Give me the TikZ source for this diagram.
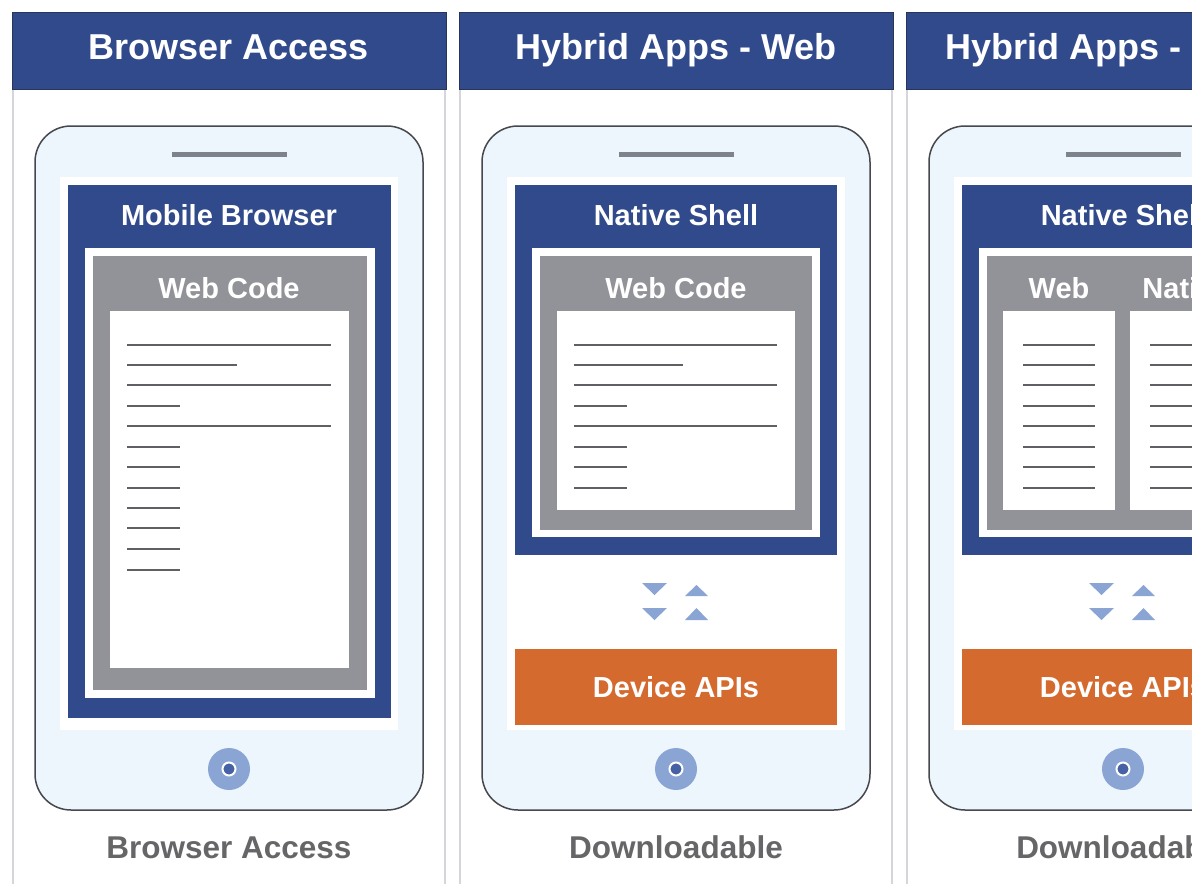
\documentclass[tikz,border=0pt]{standalone}
\usepackage{fontspec}
\setmainfont{Liberation Sans}
\definecolor{hdrblue}{RGB}{49,74,139}
\definecolor{hdredge}{RGB}{40,52,88}
\definecolor{codegray}{RGB}{146,147,153}
\definecolor{apiorange}{RGB}{213,106,47}
\definecolor{phonefill}{RGB}{237,245,253}
\definecolor{accent}{RGB}{138,165,212}
\definecolor{dotblue}{RGB}{70,98,165}
\definecolor{labelgray}{RGB}{102,102,104}
\definecolor{panelline}{RGB}{212,214,218}
\definecolor{outline}{RGB}{70,72,78}
\definecolor{speaker}{RGB}{125,130,140}
\definecolor{textline}{RGB}{95,96,100}
\tikzset{
  headbox/.style={fill=hdrblue, draw=hdredge, line width=1},
  headtext/.style={text=white, font=\bfseries\fontsize{36}{40}\selectfont, anchor=base, inner sep=0},
  boxtext/.style={text=white, font=\bfseries\fontsize{29}{32}\selectfont, anchor=base, inner sep=0},
  foottext/.style={text=labelgray, font=\bfseries\fontsize{31.5}{34}\selectfont, anchor=base, inner sep=0},
  phone/.style={fill=phonefill, draw=outline, line width=1.5, rounded corners=36},
  codeline/.style={draw=textline, line width=2},
  arrowtri/.style={fill=accent},
}
\begin{document}
\begin{tikzpicture}[x=1pt, y=-1pt]
\useasboundingbox (0,0) rectangle (1192,884);
\clip (0,0) rectangle (1192,884);
\fill[white] (0,0) rectangle (1192,884);

% three panels: header, frame, phone body, speaker, screen, home button, caption
\foreach \dx/\title/\foot/\id in {0/Browser Access/Browser Access/a, 447/Hybrid Apps - Web/Downloadable/b, 894/Hybrid Apps - Native/Downloadable/c}{
  \begin{scope}[xshift=\dx pt]
    \draw[panelline, line width=1.5] (13,89) -- (13,884) (445,89) -- (445,884);
    \fill[headbox] (12,12) rectangle (446,89);
    \node[headtext] (title-\id) at (229,59) {\title};
    \draw[phone] (35,126) rectangle (423,810);
    \draw[speaker, line width=5] (172,154) -- (287,154);
    \fill[white] (60,177) rectangle (398,730);
    \node[circle, fill=accent, minimum size=42, inner sep=0] (home-\id) at (229,769) {};
    \node[circle, fill=dotblue, draw=white, line width=2, minimum size=13, inner sep=0] (homedot-\id) at (home-\id.center) {};
    \node[foottext] (foot-\id) at (229,858) {\foot};
  \end{scope}
}

% panel 1: mobile browser with web code page
\fill[hdrblue] (68,185) rectangle (391,718);
\node[boxtext] (mb) at (229,225) {Mobile Browser};
\fill[white] (85,248) rectangle (375,698);
\fill[codegray] (93,256) rectangle (367,690);
\node[boxtext] (wc-a) at (229,298) {Web Code};
\fill[white] (110,311) rectangle (349,668);
\foreach \y/\xe in {345/331, 365/237, 385/331, 406/180, 426/331, 447/180, 467/180, 488/180, 508/180, 528/180, 549/180, 570/180}
  \draw[codeline] (127,\y) -- (\xe,\y);

% panel 2: native shell wrapping web code
\begin{scope}[xshift=447pt]
  \fill[hdrblue] (68,185) rectangle (390,555);
  \node[boxtext] (ns-b) at (229,225) {Native Shell};
  \fill[white] (85,248) rectangle (373,537);
  \fill[codegray] (93,256) rectangle (365,530);
  \node[boxtext] (wc-b) at (229,298) {Web Code};
  \fill[white] (110,311) rectangle (348,510);
  \foreach \y/\xe in {345/330, 365/236, 385/330, 406/180, 426/330, 447/180, 467/180, 488/180}
    \draw[codeline] (127,\y) -- (\xe,\y);
\end{scope}

% panel 3: native shell wrapping web and native code side by side
\begin{scope}[xshift=894pt]
  \fill[hdrblue] (68,185) rectangle (390,555);
  \node[boxtext] (ns-c) at (229,225) {Native Shell};
  \fill[white] (85,248) rectangle (373,537);
  \fill[codegray] (93,256) rectangle (365,530);
  \node[boxtext] (web-c) at (165,298) {Web};
  \node[boxtext] (nat-c) at (292,298) {Native};
  \fill[white] (109,311) rectangle (221,510);
  \fill[white] (236,311) rectangle (348,510);
  \foreach \y in {345,365,385,406,426,447,467,488}{
    \draw[codeline] (129,\y) -- (201,\y);
    \draw[codeline] (256,\y) -- (328,\y);
  }
\end{scope}

% panels 2 and 3: bridge arrows and device APIs
\foreach \dx/\id in {447/b, 894/c}{
  \begin{scope}[xshift=\dx pt]
    \fill[arrowtri] (195,583) -- (220,583) -- (207.5,595) -- cycle;
    \fill[arrowtri] (195,608) -- (220,608) -- (207.5,620) -- cycle;
    \fill[arrowtri] (238,596) -- (261,596) -- (249.5,585) -- cycle;
    \fill[arrowtri] (238,620) -- (261,620) -- (249.5,608) -- cycle;
    \fill[apiorange] (68,649) rectangle (390,725);
    \node[boxtext] (api-\id) at (229,697) {Device APIs};
  \end{scope}
}
\end{tikzpicture}
\end{document}
